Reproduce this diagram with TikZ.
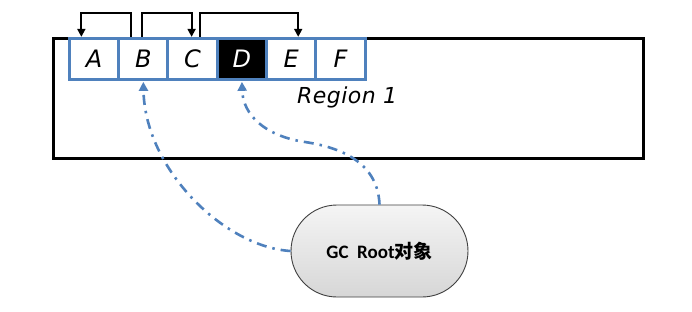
\documentclass[tikz,border=0pt]{standalone}
\usepackage{fontspec}
\usetikzlibrary{arrows.meta,calc,shapes.misc}
\newfontfamily\handfont{DejaVu Sans}[LetterSpace=2]
\newfontfamily\gcfont{Carlito}
\newfontfamily\cjkfont{Noto Sans CJK SC}
\definecolor{cellblue}{HTML}{4F81BD}
\tikzset{
  cellbox/.style={draw=cellblue, line width=3pt, fill=white, minimum width=49.3pt,
    minimum height=41.5pt, inner sep=0pt, outer sep=0pt,
    font=\handfont\itshape\fontsize{24}{24}\selectfont},
  regionbox/.style={draw=black, line width=3pt},
  jumparrow/.style={draw=black, line width=1.8pt, -{Triangle[length=8pt,width=8pt]}},
  refline/.style={draw=cellblue, line width=2.6pt, dash pattern=on 10pt off 6pt on 2.5pt off 6pt,
    -{Triangle[length=9pt,width=9pt]}},
  rootbox/.style={draw=black!75, line width=0.9pt, rounded rectangle, minimum width=177pt,
    minimum height=92pt, top color=gray!8, bottom color=gray!32, inner sep=0pt}
}
\begin{document}
\begin{tikzpicture}[x=1pt,y=-1pt]
\useasboundingbox (0,0) rectangle (692,311);
\fill[white] (0,0) rectangle (692,311);
% region rectangle
\coordinate (rnw) at (53.5,38.8);
\coordinate (rse) at (643.5,158.5);
\draw[regionbox] (rnw) rectangle (rse);
% cells
\node[cellbox] (A) at (94.0,59.1) {A};
\node[cellbox] (B) at (143.3,59.1) {B};
\node[cellbox] (C) at (192.6,59.1) {C};
\node[cellbox, fill=black, text=white] (D) at (241.9,59.1) {D};
\node[cellbox] (E) at (291.2,59.1) {E};
\node[cellbox] (F) at (340.5,59.1) {F};
\node[anchor=base west, inner sep=0pt, font=\handfont\itshape\fontsize{22}{22}\selectfont] (reg) at (297,103) {Region 1};
% jump arrows
\draw[jumparrow] ($(B.north west)+(12,-1.5)$) |- ($(A.north west)+(12,-25)$) -- ($(A.north west)+(12,-1.5)$);
\draw[jumparrow] ($(B.north)+(-1,-1.5)$) |- ($(C.north)+(-1,-25)$) -- ($(C.north)+(-1,-1.5)$);
\draw[jumparrow] ($(C.north west)+(32,-1.5)$) |- ($(E.north)+(7,-25)$) -- ($(E.north)+(7,-1.5)$);
% GC root
\node[rootbox, font=\bfseries\fontsize{19}{19}\selectfont] (root) at (379.5,251) {\gcfont GC\ \ Root\cjkfont 对象};
% reference lines
\coordinate (btip) at ($(B.south)+(0,2)$);
\coordinate (dtip) at ($(D.south)+(0,2)$);
\draw[refline] (root.west) .. controls (225,247) and (145,170) .. (btip);
\draw[refline] (root.north) .. controls (378,165) and (345,148) .. (305,142) .. controls (265,136) and (243,115) .. (dtip);
\end{tikzpicture}
\end{document}
